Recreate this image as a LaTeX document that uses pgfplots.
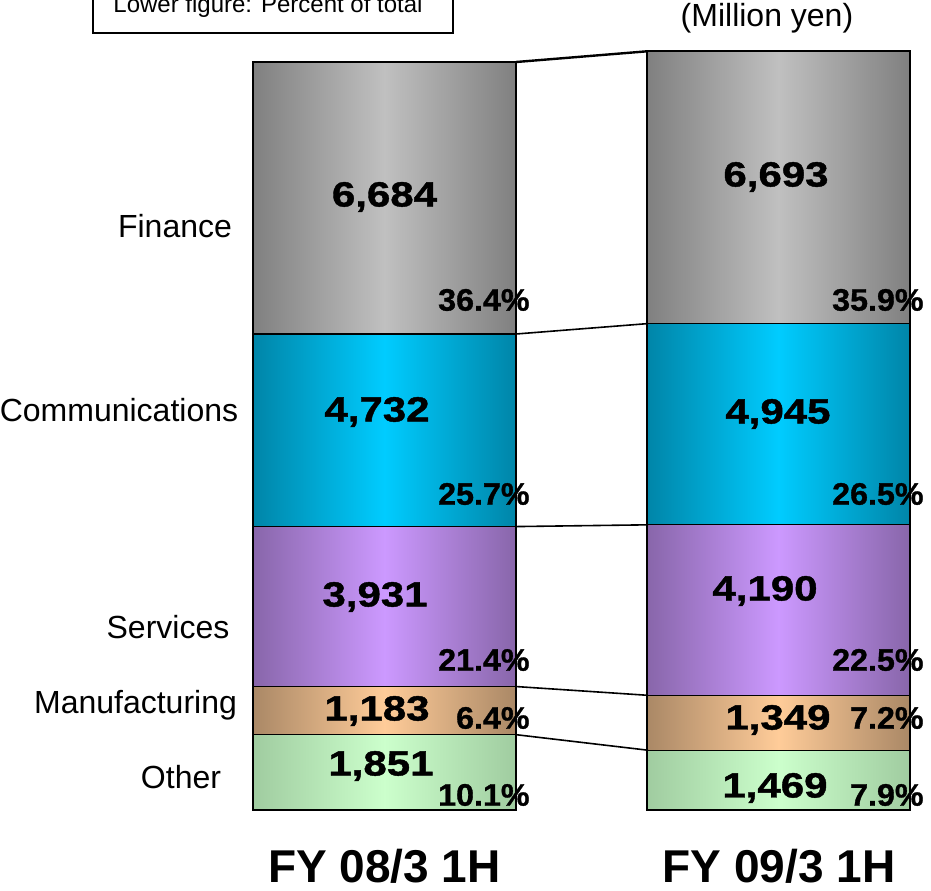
\documentclass[border=0pt]{standalone}
\usepackage{pgfplots}
\pgfplotsset{compat=1.18}
\usepackage{fontspec}
\setmainfont{Liberation Sans}
\newfontfamily\valfont[FakeStretch=1.2, BoldFeatures={FakeBold=1.2}]{Liberation Sans}
\newfontfamily\pctfont[FakeStretch=1.04, BoldFeatures={FakeBold=1}]{Liberation Sans}
\definecolor{grayE}{HTML}{808080}\definecolor{grayM}{HTML}{C0C0C0}
\definecolor{cyanE}{HTML}{0085A8}\definecolor{cyanM}{HTML}{00CCFF}
\definecolor{purE}{HTML}{8866AA}\definecolor{purM}{HTML}{CC99FF}
\definecolor{tanE}{HTML}{AA8866}\definecolor{tanM}{HTML}{FFCC99}
\definecolor{grnE}{HTML}{A0CCA0}\definecolor{grnM}{HTML}{CCFFCC}
\pgfplotsset{base/.style={scale only axis, width=465.5pt, height=445pt,
  xmin=-0.9759, xmax=1.3871, ymin=-1966, ymax=19905, hide axis, clip=false},
  seg/.style n args={2}{draw=black, line width=0.6pt, left color=#1, right color=#1, middle color=#2}}
\newcommand{\val}[1]{{\valfont\bfseries\fontsize{17.5}{18}\selectfont #1}}
\newcommand{\pct}[1]{{\pctfont\bfseries\fontsize{15.5}{16}\selectfont #1}}
\begin{document}
\begin{tikzpicture}
% bar FY 08/3 1H
\begin{axis}[base, ybar stacked, bar width=0.6675]
\addplot[seg={grnE}{grnM}] coordinates {(0,1851)};
\addplot[seg={tanE}{tanM}] coordinates {(0,1183)};
\addplot[seg={purE}{purM}] coordinates {(0,3931)};
\addplot[seg={cyanE}{cyanM}] coordinates {(0,4732)};
\addplot[seg={grayE}{grayM}, line width=0.9pt] coordinates {(0,6684)};
\end{axis}
% bar FY 09/3 1H
\begin{axis}[base, ybar stacked, bar width=0.6675]
\addplot[seg={grnE}{grnM}] coordinates {(1,1469)};
\addplot[seg={tanE}{tanM}] coordinates {(1,1349)};
\addplot[seg={purE}{purM}] coordinates {(1,4190)};
\addplot[seg={cyanE}{cyanM}] coordinates {(1,4945)};
\addplot[seg={grayE}{grayM}, line width=0.9pt] coordinates {(1,6693)};
\end{axis}
\begin{axis}[base]
\addplot[black, line width=0.8pt, mark=none] coordinates {(0.3338,1851) (0.6688,1469)};
\addplot[black, line width=0.8pt, mark=none] coordinates {(0.3338,3034) (0.6688,2818)};
\addplot[black, line width=0.8pt, mark=none] coordinates {(0.3338,6965) (0.6688,7008)};
\addplot[black, line width=0.8pt, mark=none] coordinates {(0.3338,11697) (0.6688,11953)};
\addplot[black, line width=1.2pt, mark=none] coordinates {(0.3338,18381) (0.6688,18646)};
% values bar 1
\node at (axis cs:0,15064) {\val{6,684}};
\node at (axis cs:-0.019,9780) {\val{4,732}};
\node at (axis cs:-0.024,5234) {\val{3,931}};
\node at (axis cs:-0.019,2433) {\val{1,183}};
\node at (axis cs:-0.009,1081) {\val{1,851}};
% values bar 2
\node at (axis cs:0.9937,15555) {\val{6,693}};
\node at (axis cs:0.9987,9731) {\val{4,945}};
\node at (axis cs:0.9658,5382) {\val{4,190}};
\node at (axis cs:0.9987,2212) {\val{1,349}};
\node at (axis cs:0.9911,541) {\val{1,469}};
% percents
\node[anchor=east, inner sep=0pt] at (axis cs:0.3693,12533) {\pct{36.4\%}};
\node[anchor=east, inner sep=0pt] at (axis cs:0.3693,7765) {\pct{25.7\%}};
\node[anchor=east, inner sep=0pt] at (axis cs:0.3693,3686) {\pct{21.4\%}};
\node[anchor=east, inner sep=0pt] at (axis cs:0.3693,2261) {\pct{6.4\%}};
\node[anchor=east, inner sep=0pt] at (axis cs:0.3693,369) {\pct{10.1\%}};
\node[anchor=east, inner sep=0pt] at (axis cs:1.3693,12533) {\pct{35.9\%}};
\node[anchor=east, inner sep=0pt] at (axis cs:1.3693,7765) {\pct{26.5\%}};
\node[anchor=east, inner sep=0pt] at (axis cs:1.3693,3686) {\pct{22.5\%}};
\node[anchor=east, inner sep=0pt] at (axis cs:1.3693,2261) {\pct{7.2\%}};
\node[anchor=east, inner sep=0pt] at (axis cs:1.3693,369) {\pct{7.9\%}};
% categories
\node[font=\fontsize{16}{17}\selectfont] at (axis cs:-0.5317,14351) {Finance};
\node[font=\fontsize{16}{17}\selectfont] at (axis cs:-0.6739,9830) {Communications};
\node[font=\fontsize{16}{17}\selectfont] at (axis cs:-0.5495,4497) {Services};
\node[font=\fontsize{16}{17}\selectfont] at (axis cs:-0.632,2580) {Manufacturing};
\node[font=\fontsize{16}{17}\selectfont] at (axis cs:-0.5165,811) {Other};
% bottom
\node[font=\bfseries\fontsize{23}{24}\selectfont] at (axis cs:0,-1376) {FY 08/3 1H};
\node[font=\bfseries\fontsize{23}{24}\selectfont] at (axis cs:1.0013,-1376) {FY 09/3 1H};
\node[font=\fontsize{16}{17}\selectfont] at (axis cs:0.9708,19463) {(Million yen)};
% box
\draw[black, line width=0.6pt] (axis cs:-0.7398,19094) rectangle (axis cs:0.1739,21500);
\node[font=\fontsize{12}{13}\selectfont] at (axis cs:-0.2957,19740) {Lower figure: Percent of total};
\end{axis}
\pgfresetboundingbox
\path[use as bounding box] (current axis.south west) rectangle (current axis.north east);
\end{tikzpicture}
\end{document}
